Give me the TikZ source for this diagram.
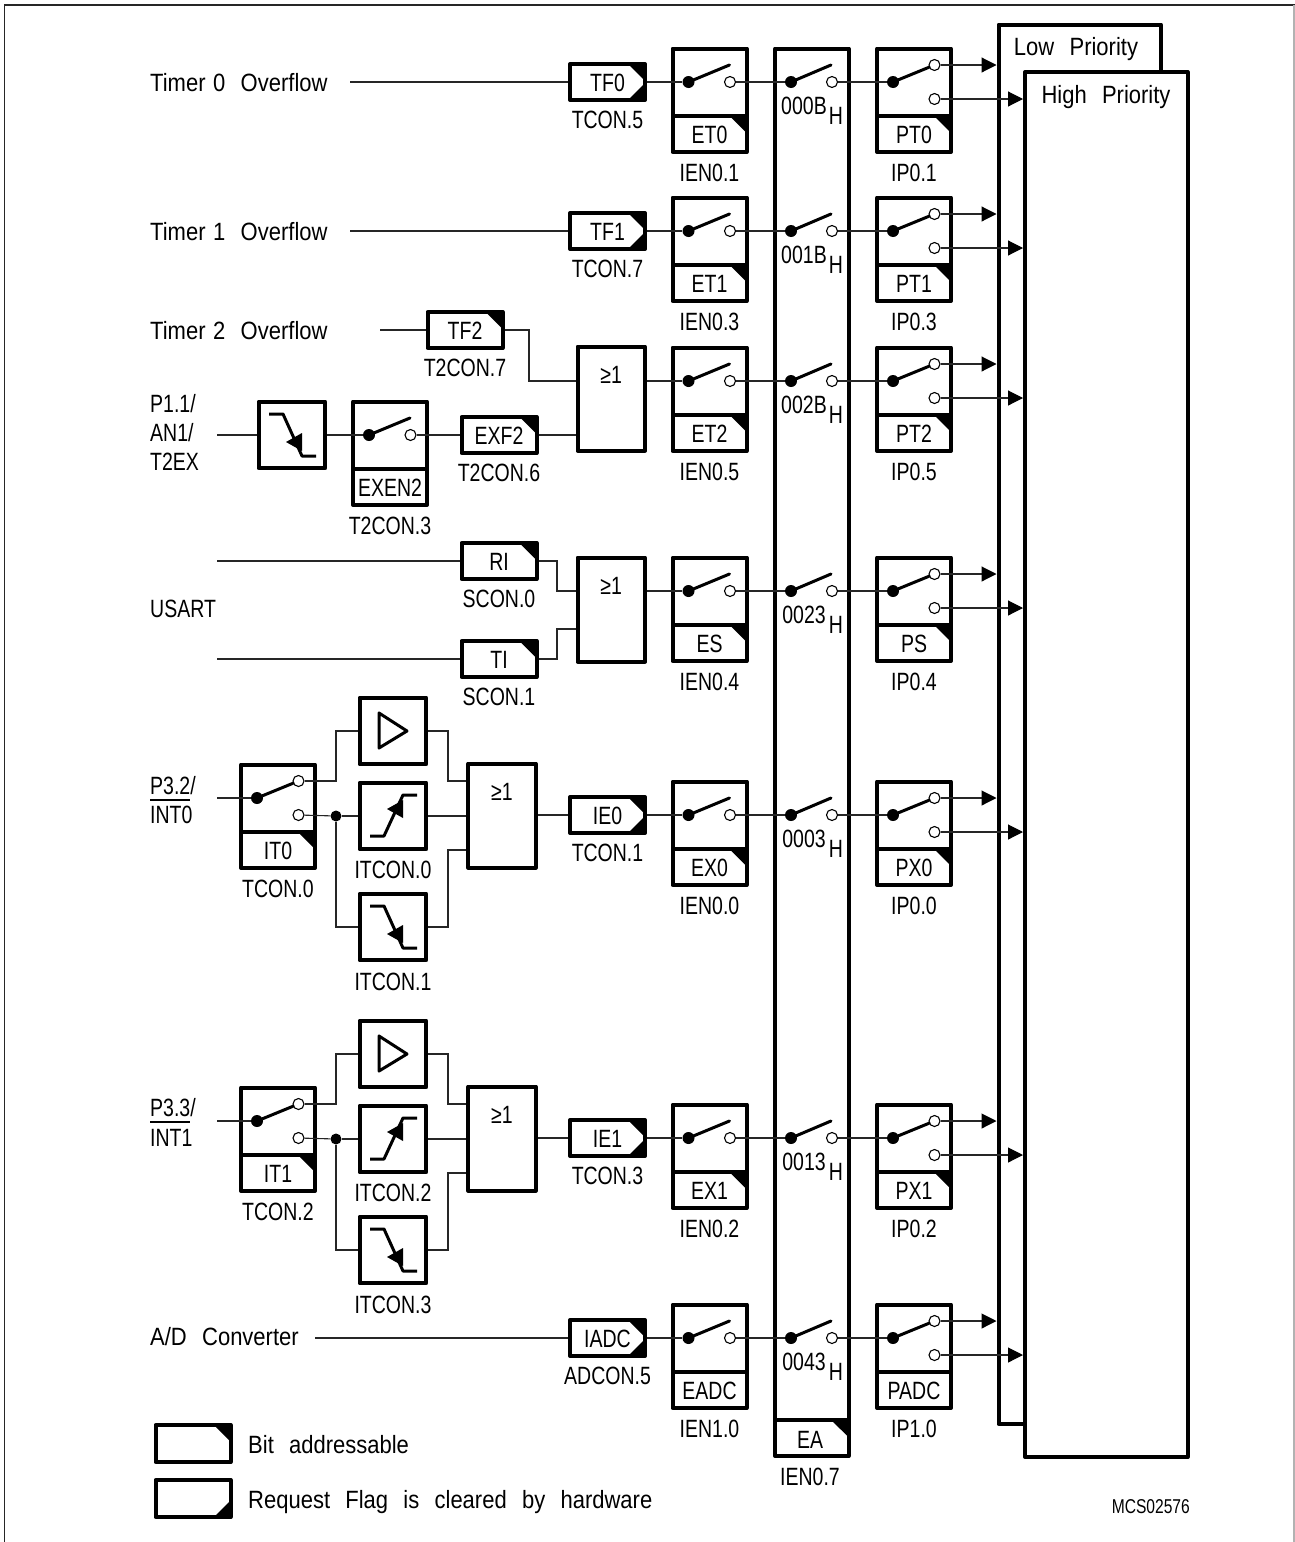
\documentclass[tikz,border=0pt]{standalone}
\usepackage{fontspec}
\setmainfont{Liberation Sans}[FakeStretch=0.78,WordSpace=1.5]
\newfontfamily\widefont{Liberation Sans}[FakeStretch=0.88,WordSpace=1.25]
\usetikzlibrary{arrows.meta,calc}
\tikzset{
  every node/.style={inner sep=0pt},
  txt/.style={font=\fontsize{25}{25}\selectfont,text height=18pt,text depth=0pt,inner sep=0pt},
  widetxt/.style={font=\fontsize{25}{25}\selectfont\widefont,text height=18pt,text depth=0pt,inner sep=0pt},
  smalltxt/.style={font=\fontsize{20}{20}\selectfont,text height=14pt,text depth=0pt},
  bx/.style={draw,line width=4pt,line join=round,fill=white,rectangle},
  wire/.style={line width=1.1pt,black!85},
  lever/.style={line width=3pt,line cap=round},
  edgeg/.style={line width=3pt,line join=round},
  dotn/.style={circle,fill=black,minimum size=12pt},
  opn/.style={circle,draw,fill=white,line width=1.1pt,minimum size=11pt},
  tiparrow/.style={wire,-{Triangle[length=15pt,width=15pt,fill=black,color=black]}},
}
% switch box: name, cx, row, text, label, corner(1/0)
\newcommand{\swbody}[6]{%
  \node[bx,minimum width=74pt,minimum height=103.5pt] (#1) at (#2,{#3+18.25}) {};
  \draw[line width=4pt] ({#2-37},{#3+34}) -- ({#2+37},{#3+34});
  \ifnum#6=1 \fill ({#2+21},{#3+35}) -- ({#2+37},{#3+35}) -- ({#2+37},{#3+51}) -- cycle;\fi
  \node[txt] (#1-t) at (#2,{#3+52.5}) {#4};
  \node[txt] (#1-l) at (#2,{#3+90}) {#5};
  \node[dotn] (#1-d) at ({#2-21},#3) {};
}
\newcommand{\swone}[6]{%
  \swbody{#1}{#2}{#3}{#4}{#5}{#6}
  \node[opn] (#1-c) at ({#2+20.5},#3) {};
  \draw[lever] (#1-d.center) -- ({#2+20},{#3-17});
}
\newcommand{\swtwo}[6]{%
  \swbody{#1}{#2}{#3}{#4}{#5}{#6}
  \node[opn] (#1-u) at ({#2+20.5},{#3-17}) {};
  \node[opn] (#1-w) at ({#2+20.5},{#3+17}) {};
  \draw[lever] (#1-d) -- (#1-u);
}
% flag box: name, cx, row, text, label, top corner, bottom corner
\newcommand{\flagbx}[7]{%
  \node[bx,minimum width=75pt,minimum height=36pt] (#1) at (#2,#3) {};
  \ifnum#6=1 \fill ({#2+20.5},{#3-18}) -- ({#2+37.5},{#3-18}) -- ({#2+37.5},{#3-1}) -- cycle;\fi
  \ifnum#7=1 \fill ({#2+20.5},{#3+18}) -- ({#2+37.5},{#3+18}) -- ({#2+37.5},{#3+1}) -- cycle;\fi
  \node[txt] (#1-t) at (#2,#3) {#4};
  \node[txt] (#1-l) at (#2,{#3+37}) {#5};
}
% edge boxes: name, cx, cy
\newcommand{\edgebox}[3]{\node[bx,minimum size=66.5pt] (#1) at (#2,#3) {};}
\newcommand{\fallglyph}[2]{%
  \draw[edgeg] ({#1-23},{#2-21}) -- ({#1-9},{#2-21}) -- ({#1+10},{#2+21}) -- ({#1+24},{#2+21});
  \fill ({#1+10},{#2-2}) -- ({#1-6},{#2+7}) -- ({#1+10},{#2+16}) -- cycle;
}
\newcommand{\riseglyph}[2]{%
  \draw[edgeg] ({#1-23},{#2+20}) -- ({#1-9},{#2+20}) -- ({#1+10},{#2-21}) -- ({#1+24},{#2-21});
  \fill ({#1+10},{#2-16}) -- ({#1-6},{#2-7}) -- ({#1+10},{#2+2}) -- cycle;
}
\newcommand{\bufglyph}[2]{%
  \draw[edgeg] ({#1-14},{#2-18}) -- ({#1+14},#2) -- ({#1-14},{#2+17}) -- cycle;
}
% OR gate: name, cx, top
\newcommand{\orgate}[3]{%
  \node[bx,minimum width=67.5pt,minimum height=104pt] (#1) at (#2,{#3+52}) {};
  \node[txt] (#1-t) at (#2,{#3+28}) {≥1};
}
% external interrupt block: suffix, row, flag text, label, it0 label, itcon labels
\newcommand{\extblock}[6]{%
  \swtwo{it#1}{278}{#2}{#3}{#4}{1}
  \edgebox{buf#1}{393}{{#2-67}}
  \edgebox{ris#1}{393}{{#2+18}}
  \edgebox{fal#1}{393}{{#2+129}}
  \bufglyph{393}{#2-67}
  \riseglyph{393}{#2+18}
  \fallglyph{393}{#2+129}
  \node[txt] (ris#1-l) at (393,{#2+71}) {#5};
  \node[txt] (fal#1-l) at (393,{#2+183}) {#6};
  \orgate{org#1}{502}{#2-34.5}
  \coordinate (inp#1) at (217,#2);
  \coordinate (ja#1) at (336,{#2-17});
  \node[circle,fill=black,minimum size=11pt] (jd#1) at (336,{#2+18}) {};
  \coordinate (jo#1) at (448,{#2-67});
  \coordinate (jf#1) at (448,{#2+129});
  \draw[wire] (inp#1) -- (it#1-d);
  \draw[wire] (it#1-u) -- (ja#1) |- (buf#1.west);
  \draw[wire] (it#1-w) -- (jd#1);
  \draw[wire] (jd#1) -- (ris#1.west);
  \draw[wire] (jd#1) |- (fal#1.west);
  \draw[wire] (buf#1.east) -- (jo#1) |- (org#1.west |- 0,{#2-17});
  \draw[wire] (ris#1.east) -- (org#1.west |- ris#1.east);
  \draw[wire] (fal#1.east) -- (jf#1) |- (org#1.west |- 0,{#2+52});
}
\begin{document}
\begin{tikzpicture}[x=1pt,y=-1pt]
\useasboundingbox (0,0) rectangle (1295,1542);
% page frame
\draw[line width=1.2pt,black!85] (4.5,1542) -- (4.5,5) -- (1295,5);
\draw[line width=1.2pt,black!30] (1294,5) -- (1294,1542);
% priority boxes
\node[bx,minimum width=162.5pt,minimum height=1399.5pt] (low) at (1079.75,724.25) {};
\node[bx,minimum width=162.5pt,minimum height=1385pt] (high) at (1106.25,764.5) {};
\node[widetxt] (lowt) at (1076,46) {Low\ \ Priority};
\node[widetxt] (hight) at (1106,94) {High\ \ Priority};
% EA column
\node[bx,minimum width=73.5pt,minimum height=1407.5pt] (ea) at (811.75,752.25) {};
\draw[line width=4pt] (775,1420) -- (848.5,1420);
\fill (832,1421) -- (848.5,1421) -- (848.5,1437) -- cycle;
\node[txt] (ea-t) at (810,1439) {EA};
\node[txt] (ea-l) at (810,1476) {IEN0.7};
% left column texts
\node[widetxt,anchor=west] (s0) at (150,82) {Timer 0\ \ Overflow};
\node[widetxt,anchor=west] (s1) at (150,231) {Timer 1\ \ Overflow};
\node[widetxt,anchor=west] (s2) at (150,330) {Timer 2\ \ Overflow};
\node[txt,anchor=west] (s3a) at (150,403) {P1.1/};
\node[txt,anchor=west] (s3b) at (150,432) {AN1/};
\node[txt,anchor=west] (s3c) at (150,461) {T2EX};
\node[txt,anchor=west] (us) at (150,608) {USART};
\node[txt,anchor=west] (i0a) at (150,785) {P3.2/};
\node[txt,anchor=west] (i0b) at (150,814) {INT0};
\draw[line width=1.2pt] (150,800) -- (190,800);
\node[txt,anchor=west] (i1a) at (150,1107) {P3.3/};
\node[txt,anchor=west] (i1b) at (150,1137) {INT1};
\draw[line width=1.2pt] (150,1122) -- (190,1122);
\node[widetxt,anchor=west] (adt) at (150,1336) {A/D\ \ Converter};
% flags
\flagbx{tf0}{607.5}{82}{TF0}{TCON.5}{1}{1}
\flagbx{tf1}{607.5}{231}{TF1}{TCON.7}{1}{1}
\flagbx{tf2}{465}{330}{TF2}{T2CON.7}{1}{0}
\flagbx{exf2}{499}{435}{EXF2}{T2CON.6}{1}{0}
\flagbx{ri}{499}{561}{RI}{SCON.0}{1}{0}
\flagbx{ti}{499}{659}{TI}{SCON.1}{1}{0}
\flagbx{ie0}{607.5}{815}{IE0}{TCON.1}{1}{1}
\flagbx{ie1}{607.5}{1138}{IE1}{TCON.3}{1}{1}
\flagbx{iadc}{607.5}{1338}{IADC}{ADCON.5}{1}{1}
% gates
\orgate{or2}{611.25}{346.5}
\orgate{ors}{611.25}{557.5}
% rows
\foreach \k/\r/\src/\en/\enl/\ec/\pr/\prl/\pc/\ad in {
  a/82/tf0/ET0/IEN0.1/1/PT0/IP0.1/1/000B,
  b/231/tf1/ET1/IEN0.3/1/PT1/IP0.3/1/001B,
  c/381/or2/ET2/IEN0.5/1/PT2/IP0.5/1/002B,
  d/591/ors/ES/IEN0.4/1/PS/IP0.4/1/0023,
  e/815/ie0/EX0/IEN0.0/1/PX0/IP0.0/1/0003,
  f/1138/ie1/EX1/IEN0.2/1/PX1/IP0.2/1/0013,
  g/1338/iadc/EADC/IEN1.0/0/PADC/IP1.0/0/0043}{
  \swone{en\k}{709.5}{\r}{\en}{\enl}{\ec}
  \swtwo{pr\k}{914}{\r}{\pr}{\prl}{\pc}
  \node[dotn] (ea\k-d) at (791,\r) {};
  \node[opn] (ea\k-c) at (832,\r) {};
  \draw[lever] (ea\k-d.center) -- (831,{\r-17});
  \node[txt] (ad\k) at (804,{\r+23}) {\ad};
  \node[txt] (adh\k) at (836,{\r+33}) {H};
  \draw[wire] (\src.east |- en\k-d) -- (en\k-d);
  \draw[wire] (en\k-c) -- (ea\k-d);
  \draw[wire] (ea\k-c) -- (pr\k-d);
  \draw[tiparrow] (pr\k-u) -- (low.west |- pr\k-u);
  \draw[tiparrow] (pr\k-w) -- (high.west |- pr\k-w);
}
% free ends
\coordinate (c0) at (350,82);
\coordinate (c1) at (350,231);
\coordinate (c2) at (380,330);
\coordinate (c3) at (217,435);
\coordinate (c4) at (217,561);
\coordinate (c5) at (217,659);
\coordinate (c6) at (315,1338);
\draw[wire] (c0) -- (tf0.west);
\draw[wire] (c1) -- (tf1.west);
\draw[wire] (c2) -- (tf2.west);
\draw[wire] (c4) -- (ri.west);
\draw[wire] (c5) -- (ti.west);
\draw[wire] (c6) -- (iadc.west);
% timer 2 / external 2
\edgebox{t2edge}{292}{435}
\fallglyph{292}{435}
\swone{exen}{390}{435}{EXEN2}{T2CON.3}{0}
\draw[wire] (c3) -- (t2edge.west);
\draw[wire] (t2edge.east) -- (exen-d);
\draw[wire] (exen-c) -- (exf2.west);
\draw[wire] (exf2.east) -- (or2.west |- exf2.east);
\coordinate (j2) at (529,330);
\draw[wire] (tf2.east) -- (j2) |- (or2.west |- enc-d);
% USART
\coordinate (j3) at (557,561);
\coordinate (j4) at (557,659);
\draw[wire] (ri.east) -- (j3) |- (ors.west |- end-d);
\draw[wire] (ti.east) -- (j4) |- (ors.west |- 0,629);
% external interrupts
\extblock{x}{798}{IT0}{TCON.0}{ITCON.0}{ITCON.1}
\extblock{y}{1121}{IT1}{TCON.2}{ITCON.2}{ITCON.3}
\draw[wire] (orgx.east |- ie0) -- (ie0.west);
\draw[wire] (orgy.east |- ie1) -- (ie1.west);
% legend
\node[bx,minimum width=75pt,minimum height=37pt] (lg1) at (193,1443.5) {};
\fill (214,1425) -- (230.5,1425) -- (230.5,1441.5) -- cycle;
\node[widetxt,anchor=west] (lg1t) at (248,1444) {Bit\ \ addressable};
\node[bx,minimum width=75pt,minimum height=37pt] (lg2) at (193,1498.5) {};
\fill (214,1517) -- (230.5,1517) -- (230.5,1500.5) -- cycle;
\node[widetxt,anchor=west] (lg2t) at (248,1499) {Request\ \ Flag\ \ is\ \ cleared\ \ by\ \ hardware};
\node[smalltxt,anchor=east] (mcs) at (1190,1506) {MCS02576};
\end{tikzpicture}
\end{document}
